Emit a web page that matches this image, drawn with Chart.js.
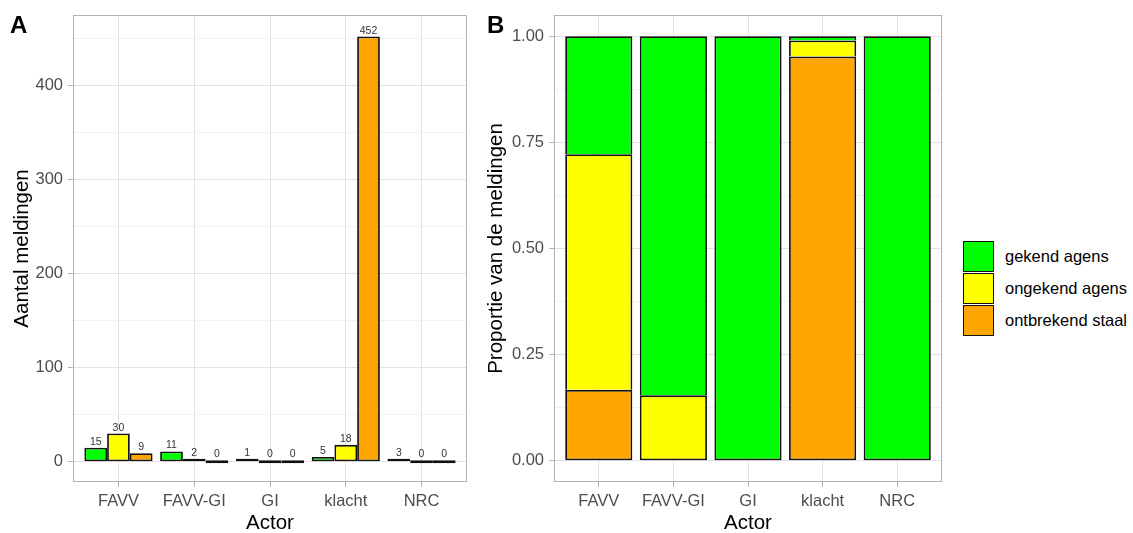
<!DOCTYPE html>
<html><head><meta charset="utf-8">
<script src="https://cdn.jsdelivr.net/npm/chart.js@4.4.1/dist/chart.umd.min.js"></script>
<style>
html,body{margin:0;padding:0;background:#fff;width:1133px;height:533px;overflow:hidden;font-family:"Liberation Sans",Arial,sans-serif;}
#wa{position:absolute;left:0;top:0;width:470px;height:533px;}
#wb{position:absolute;left:470px;top:0;width:480px;height:533px;}
.tag{position:absolute;font-weight:bold;font-size:24px;line-height:24px;color:#000;}
#legend{position:absolute;left:963px;top:241px;}
.item{position:relative;height:32px;width:170px;}
.key{position:absolute;left:0;top:0;width:31px;height:31px;box-sizing:border-box;border:1.5px solid #111;}
.lab{position:absolute;left:42px;top:0;height:31px;line-height:31px;font-size:16.5px;color:#000;white-space:nowrap;}
</style></head>
<body>
<div id="wa"><canvas id="ca"></canvas></div>
<div id="wb"><canvas id="cb"></canvas></div>
<div class="tag" style="left:10px;top:13px;">A</div>
<div class="tag" style="left:487px;top:13px;">B</div>
<div id="legend"></div>
<script>
// ---- data ----
const actors = ['FAVV', 'FAVV-GI', 'GI', 'klacht', 'NRC'];
const seriesNames = ['gekend agens', 'ongekend agens', 'ontbrekend staal'];
const countGekend = [15, 11, 1, 5, 3];
const countOngekend = [30, 2, 0, 18, 0];
const countOntbrekend = [9, 0, 0, 452, 0];
const propGekend = [0.278, 0.846, 1.000, 0.010, 1.000];
const propOngekend = [0.555, 0.154, 0.000, 0.038, 0.000];
const propOntbrekend = [0.167, 0.000, 0.000, 0.952, 0.000];
const yTicksA = [0, 100, 200, 300, 400];
const yGridA = [0, 50, 100, 150, 200, 250, 300, 350, 400, 450];
const yTicksB = [0, 0.25, 0.5, 0.75, 1];
const yGridB = [0, 0.125, 0.25, 0.375, 0.5, 0.625, 0.75, 0.875, 1];
const colors = ['#00FF00', '#FFFF00', '#FFA500'];

const FAM = '"Liberation Sans", Arial, sans-serif';
const EDGE = '#111111';
const GRID_MAJ = '#e2e2e2';
const GRID_MIN = '#f1f1f1';
const FRAME = '#b3b3b3';
const TXT = '#4d4d4d';

Chart.defaults.font.family = FAM;
Chart.defaults.animation = false;

function pts(arr){ return arr.map((v,i)=>({x:i+1, y:v})); }
function isIn(list, v){ return list.some(t => Math.abs(t - v) < 1e-9); }

const panelBorder = {
  id:'panelBorder',
  afterDraw(chart){
    const {ctx, chartArea:a} = chart;
    ctx.save();
    ctx.strokeStyle = FRAME; ctx.lineWidth = 1;
    ctx.strokeRect(Math.round(a.left)+0.5, Math.round(a.top)+0.5, Math.round(a.right-a.left)-1, Math.round(a.bottom-a.top)-1);
    ctx.restore();
  }
};

const barLabels = {
  id:'barLabels',
  afterDatasetsDraw(chart){
    const ctx = chart.ctx;
    ctx.save();
    ctx.font = '10.5px ' + FAM;
    ctx.fillStyle = '#333333';
    ctx.textAlign = 'center';
    ctx.textBaseline = 'alphabetic';
    chart.data.datasets.forEach((ds, di) => {
      chart.getDatasetMeta(di).data.forEach((el, i) => {
        const top = Math.min(el.y, el.base);
        ctx.fillText(String(ds.data[i].y), el.x, top - 3);
      });
    });
    ctx.restore();
  }
};

function xScale(h){
  return {
    type:'linear', min:0.4, max:5.6, offset:false, stacked:h,
    afterBuildTicks: s => { s.ticks = actors.map((a,i)=>({value:i+1})); },
    ticks:{ callback:(v,i)=>actors[i], font:{size:16.5}, color:TXT, padding:5, autoSkip:false, maxRotation:0 },
    grid:{ color:GRID_MAJ, offset:false, drawTicks:true, tickLength:5, tickColor:FRAME, lineWidth:1 },
    border:{ display:false },
    title:{ display:true, text:'Actor', font:{size:20.5}, color:'#000', padding:{top:0,bottom:-3} },
    afterFit: s => { s.height = 51; }
  };
}

// ---- Chart A ----
new Chart(document.getElementById('ca'), {
  type:'bar',
  data:{
    datasets:[countGekend, countOngekend, countOntbrekend].map((arr,k)=>({
      label: seriesNames[k], data: pts(arr), backgroundColor: colors[k],
      borderColor: EDGE, borderWidth: 1.8, borderSkipped: false,
      categoryPercentage: 0.9, barPercentage: 1.0, minBarLength: 3
    }))
  },
  options:{
    responsive:true, maintainAspectRatio:false,
    layout:{ padding:{ left:0, right:3, top:13, bottom:0 } },
    plugins:{ legend:{display:false}, tooltip:{enabled:false} },
    scales:{
      x: xScale(false),
      y:{
        min:-21.5, max:475,
        afterBuildTicks: s => { s.ticks = yGridA.map(v=>({value:v})); },
        ticks:{ callback:v => isIn(yTicksA, v) ? String(v) : '', font:{size:16.5}, color:TXT, padding:5 },
        grid:{ color:c => isIn(yTicksA, c.tick.value) ? GRID_MAJ : GRID_MIN, tickLength:5,
               tickColor:c => isIn(yTicksA, c.tick.value) ? FRAME : 'rgba(0,0,0,0)', lineWidth:1 },
        border:{ display:false },
        title:{ display:true, text:'Aantal meldingen', font:{size:20.5}, color:'#000', padding:{top:10,bottom:0} },
        afterFit: s => { s.width = 73; }
      }
    }
  },
  plugins:[panelBorder, barLabels]
});

// ---- Chart B ----
const propSets = [propOntbrekend, propOngekend, propGekend];
const propIdx = [2, 1, 0];
function skipFor(ctx){
  const i = ctx.dataIndex;
  let first = -1;
  for (let d = 0; d < propSets.length; d++) { if (propSets[d][i] > 0) { first = d; break; } }
  return ctx.datasetIndex === first ? false : 'bottom';
}
new Chart(document.getElementById('cb'), {
  type:'bar',
  data:{
    datasets: propSets.map((arr,k)=>({
      label: seriesNames[propIdx[k]], data: pts(arr), backgroundColor: colors[propIdx[k]],
      borderColor: EDGE, borderWidth: 1.8, borderSkipped: skipFor,
      categoryPercentage: 1.0, barPercentage: 0.9
    }))
  },
  options:{
    responsive:true, maintainAspectRatio:false,
    layout:{ padding:{ left:0, right:8, top:13, bottom:0 } },
    plugins:{ legend:{display:false}, tooltip:{enabled:false} },
    scales:{
      x: xScale(true),
      y:{
        stacked:true, min:-0.05, max:1.05,
        afterBuildTicks: s => { s.ticks = yGridB.map(v=>({value:v})); },
        ticks:{ callback:v => isIn(yTicksB, v) ? v.toFixed(2) : '', font:{size:16.5}, color:TXT, padding:5 },
        grid:{ color:c => isIn(yTicksB, c.tick.value) ? GRID_MAJ : GRID_MIN, tickLength:5,
               tickColor:c => isIn(yTicksB, c.tick.value) ? FRAME : 'rgba(0,0,0,0)', lineWidth:1 },
        border:{ display:false },
        title:{ display:true, text:'Proportie van de meldingen', font:{size:20.5}, color:'#000', padding:{top:14,bottom:0} },
        afterFit: s => { s.width = 84; }
      }
    }
  },
  plugins:[panelBorder]
});

// ---- legend ----
const lg = document.getElementById('legend');
seriesNames.forEach((n,k)=>{
  const it = document.createElement('div'); it.className='item';
  const key = document.createElement('div'); key.className='key'; key.style.background = colors[k];
  const lab = document.createElement('div'); lab.className='lab'; lab.textContent = n;
  it.appendChild(key); it.appendChild(lab); lg.appendChild(it);
});
</script>
</body></html>
